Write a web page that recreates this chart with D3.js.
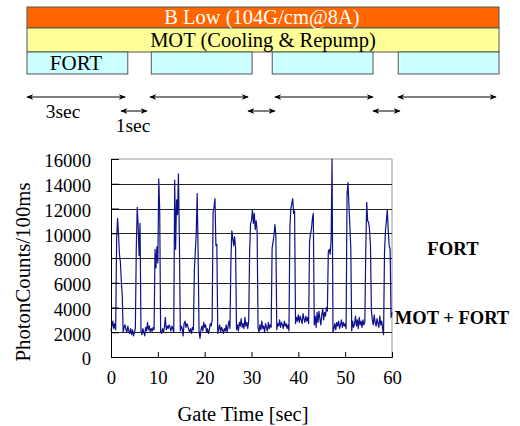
<!DOCTYPE html>
<html>
<head>
<meta charset="utf-8">
<script src="https://cdn.jsdelivr.net/npm/d3@7"></script>
<style>
  body { margin: 0; background: #fff; }
  svg text { font-family: "Liberation Serif", "Times New Roman", serif; }
</style>
</head>
<body>
<div id="chart"></div>
<script>
// timing schematic, in seconds (drawn schematically, not to chart scale)
var scheduleSpan = [0, 14.05];
var fortPulses = [[0, 3], [3.7, 6.7], [7.3, 10.3], [11.05, 14.05]];
var onArrows = [[0, 2.92], [3.66, 6.58], [7.38, 10.3], [11.04, 13.96]];
var offArrows = [[2.8, 3.57], [6.58, 7.38], [10.3, 11.1]];

// photon counts per 100ms, sampled every 0.2 s from 0 to 60 s
var sampleStep = 0.2;
var counts = [
  2100, 2500, 2900, 2300, 2700,
  2200, 9500, 11200, 10000, 8300,
  7700, 6200, 5000, 2000, 2400,
  2600, 2200, 2000, 2500, 2100,
  1900, 2300, 1800, 2200, 1700,
  2000, 2300, 8800, 12100, 10600,
  8200, 10800, 2100, 1800, 2300,
  2000, 1700, 2400, 2100, 2800,
  2200, 2500, 2000, 2300, 2100,
  2400, 2200, 8700, 7200, 8900,
  7600, 14400, 11800, 2000, 1900,
  2300, 2000, 2400, 3200, 2200,
  2500, 2300, 2600, 2400, 2100,
  2500, 2300, 2000, 14300, 8700,
  12700, 11500, 14800, 9500, 2100,
  2500, 2300, 1700, 2700, 2900,
  2400, 2700, 2500, 2200, 2000,
  2300, 1900, 2400, 2200, 7000,
  8500, 10000, 13200, 8500, 2100,
  1500, 2200, 2500, 2100, 2800,
  2400, 2600, 2000, 2300, 1900,
  2200, 2700, 2500, 3000, 11700,
  12100, 12800, 9000, 9100, 1900,
  2300, 2600, 2000, 2400, 2200,
  1900, 2300, 2100, 2600, 2000,
  2500, 2900, 2300, 7700, 10200,
  9600, 9000, 9700, 8800, 2200,
  2600, 2100, 2800, 2500, 3100,
  2400, 2700, 2300, 3200, 2500,
  2800, 2300, 2900, 8500, 10800,
  11000, 11900, 10800, 11600, 10300,
  11000, 10200, 2400, 2000, 2600,
  2200, 2900, 2300, 2500, 2000,
  2700, 2400, 2100, 2800, 2300,
  2600, 2400, 8800, 9300, 9800,
  10700, 9900, 2200, 2700, 2500,
  3000, 2400, 2800, 2600, 2300,
  2900, 2500, 2700, 2300, 2600,
  2100, 10500, 12000, 12400, 12800,
  11600, 11800, 2700, 3200, 2900,
  3400, 2800, 3300, 3000, 2700,
  3500, 3100, 2800, 3300, 2900,
  3200, 2700, 9300, 10000, 10300,
  11200, 11600, 2600, 3300, 2400,
  3600, 2800, 3700, 3100, 2600,
  3400, 3900, 3000, 3600, 3300,
  4000, 3700, 8500, 8700, 8300,
  9500, 16000, 2000, 2300, 2700,
  2200, 2800, 2500, 2900, 2300,
  2600, 3000, 2400, 2800, 2500,
  2700, 2300, 13100, 14100, 12300,
  10600, 8800, 2100, 2900, 2400,
  2700, 3300, 2500, 3000, 2300,
  3200, 2600, 2900, 2400, 3000,
  2600, 2800, 8600, 12500, 11000,
  10900, 10300, 9000, 3800, 3000,
  2600, 3400, 2800, 2500, 3100,
  2700, 2400, 3300, 2600, 2900,
  2300, 1800, 8500, 10200, 11000,
  11900, 10200, 9000, 8700, 3200,
  3600
];

var xTicks = [0, 10, 20, 30, 40, 50, 60];
var yTicks = [0, 2000, 4000, 6000, 8000, 10000, 12000, 14000, 16000];
var gridValues = [2000, 4000, 6000, 8000, 10000, 12000, 14000];

var width = 520, height = 426;

var svg = d3.select('#chart')
    .append('svg')
    .attr('width', width)
    .attr('height', height);

// ---- timing schematic ----
var sx = d3.scaleLinear().domain(scheduleSpan).range([27, 499]);

svg.append('defs').selectAll('marker')
    .data(['head'])
    .enter()
    .append('marker')
    .attr('id', 'arrow_head')
    .attr('viewBox', '0 0 10 10')
    .attr('refX', 9)
    .attr('refY', 5)
    .attr('markerWidth', 7)
    .attr('markerHeight', 7)
    .attr('markerUnits', 'userSpaceOnUse')
    .attr('orient', 'auto-start-reverse')
    .append('path')
    .attr('d', 'M0,1 L10,5 L0,9 L3,5 Z')
    .attr('fill', '#000');

svg.append('rect')
    .attr('x', sx(scheduleSpan[0])).attr('y', 7)
    .attr('width', sx(scheduleSpan[1]) - sx(scheduleSpan[0])).attr('height', 21)
    .attr('fill', '#ff6600').attr('stroke', '#555').attr('stroke-width', 1);

svg.append('rect')
    .attr('x', sx(scheduleSpan[0])).attr('y', 28)
    .attr('width', sx(scheduleSpan[1]) - sx(scheduleSpan[0])).attr('height', 24)
    .attr('fill', '#ffff99').attr('stroke', '#555').attr('stroke-width', 1);

svg.selectAll('rect.fort')
    .data(fortPulses)
    .enter()
    .append('rect')
    .attr('class', 'fort')
    .attr('x', function(d) { return sx(d[0]); })
    .attr('y', 52)
    .attr('width', function(d) { return sx(d[1]) - sx(d[0]); })
    .attr('height', 22)
    .attr('fill', '#ccffff').attr('stroke', '#555').attr('stroke-width', 1);

svg.append('text')
    .attr('x', 262).attr('y', 24)
    .attr('text-anchor', 'middle')
    .style('font-size', '20.5px')
    .attr('fill', '#fff')
    .text('B Low (104G/cm@8A)');

svg.append('text')
    .attr('x', 263).attr('y', 47)
    .attr('text-anchor', 'middle')
    .style('font-size', '20.5px')
    .text('MOT (Cooling & Repump)');

svg.append('text')
    .attr('x', 76).attr('y', 70)
    .attr('text-anchor', 'middle')
    .style('font-size', '21px')
    .text('FORT');

function drawArrows(data, y) {
    svg.append('g').selectAll('line')
        .data(data)
        .enter()
        .append('line')
        .attr('x1', function(d) { return sx(d[0]); })
        .attr('x2', function(d) { return sx(d[1]); })
        .attr('y1', y).attr('y2', y)
        .attr('stroke', '#000').attr('stroke-width', 1)
        .attr('marker-start', 'url(#arrow_head)')
        .attr('marker-end', 'url(#arrow_head)');
}
drawArrows(onArrows, 97);
drawArrows(offArrows, 111);

svg.append('text')
    .attr('x', 63).attr('y', 117.5)
    .attr('text-anchor', 'middle')
    .style('font-size', '19.5px')
    .text('3sec');

svg.append('text')
    .attr('x', 133).attr('y', 131.5)
    .attr('text-anchor', 'middle')
    .style('font-size', '19.5px')
    .text('1sec');

// ---- photon count trace ----
var x = d3.scaleLinear().domain([0, 60]).range([111, 392]);
var y = d3.scaleLinear().domain([0, 16000]).range([357, 159]);

var plot = svg.append('g').attr('id', 'plot');

// plot-area border (top/right in gray)
plot.append('path')
    .attr('d', `M${x(0)},${y(16000)} H${x(60)} V${y(0)}`)
    .attr('fill', 'none').attr('stroke', '#999').attr('stroke-width', 1);

plot.selectAll('line.grid')
    .data(gridValues)
    .enter()
    .append('line')
    .attr('class', 'grid')
    .attr('x1', x(0)).attr('x2', x(60))
    .attr('y1', function(d) { return Math.round(y(d)) + 0.5; })
    .attr('y2', function(d) { return Math.round(y(d)) + 0.5; })
    .attr('stroke', '#222').attr('stroke-width', 1);

var line = d3.line()
    .x(function(d, i) { return x(i * sampleStep); })
    .y(function(d) { return y(d); });

plot.append('path')
    .datum(counts)
    .attr('d', line)
    .attr('fill', 'none')
    .attr('stroke', '#10108a')
    .attr('stroke-width', 1.2)
    .attr('stroke-linejoin', 'round');

var yAxis = d3.axisLeft(y)
    .tickValues(yTicks)
    .tickSize(-8)
    .tickPadding(20)
    .tickFormat(d3.format('d'));

var yg = plot.append('g')
    .attr('transform', `translate(${x(0)},0)`)
    .call(yAxis);
yg.select('.domain').attr('stroke', '#000');
yg.selectAll('.tick line').attr('stroke', '#000');
yg.selectAll('.tick text')
    .attr('dy', '0.42em')
    .style('font-size', '18.7px')
    .style('font-family', '"Liberation Serif", serif')
    .attr('fill', '#000');

var xAxis = d3.axisBottom(x)
    .tickValues(xTicks)
    .tickSize(-5)
    .tickPadding(14)
    .tickFormat(d3.format('d'));

var xg = plot.append('g')
    .attr('transform', `translate(0,${y(0)})`)
    .call(xAxis);
xg.select('.domain').attr('stroke', '#000');
xg.selectAll('.tick line').attr('stroke', '#000');
xg.selectAll('.tick text')
    .style('font-size', '18.7px')
    .style('font-family', '"Liberation Serif", serif')
    .attr('fill', '#000');

svg.append('text')
    .attr('x', 243).attr('y', 421)
    .attr('text-anchor', 'middle')
    .style('font-size', '20.5px')
    .text('Gate Time [sec]');

svg.append('text')
    .attr('transform', 'translate(30,272) rotate(-90)')
    .attr('text-anchor', 'middle')
    .style('font-size', '20.8px')
    .text('PhotonCounts/100ms');

svg.append('text')
    .attr('x', 453).attr('y', 255)
    .attr('text-anchor', 'middle')
    .style('font-size', '18.7px')
    .style('font-weight', 'bold')
    .text('FORT');

svg.append('text')
    .attr('x', 452).attr('y', 324)
    .attr('text-anchor', 'middle')
    .style('font-size', '18.5px')
    .style('font-weight', 'bold')
    .text('MOT + FORT');
</script>
</body>
</html>
